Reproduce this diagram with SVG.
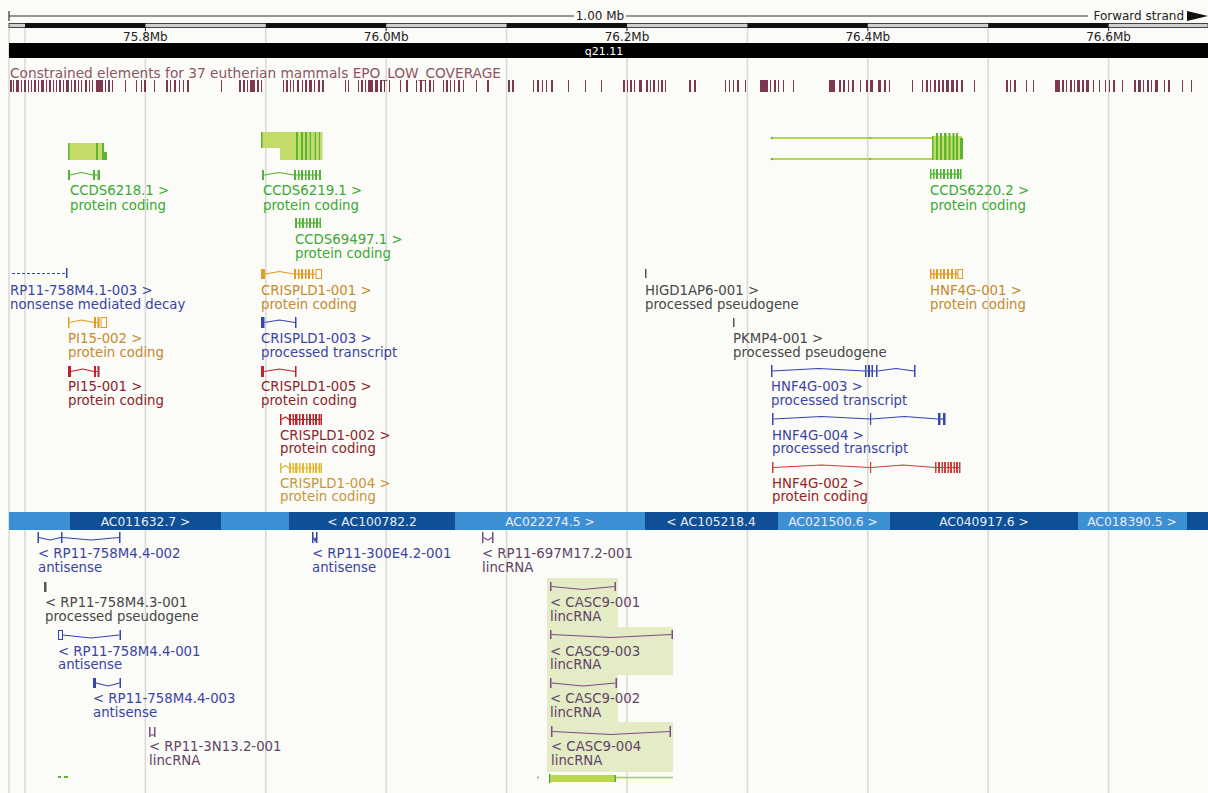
<svg xmlns="http://www.w3.org/2000/svg" width="1208" height="793" viewBox="0 0 1208 793">
<style>
text{font-family:"DejaVu Sans",Verdana,sans-serif;font-size:13.3px}
.grid{stroke:#d9d9d6;stroke-width:1.5}
.sc{font-size:12px;fill:#222}
.band{font-size:12.3px;fill:#e8eef8;text-anchor:middle}
.x{stroke:none}
.i{fill:none;stroke-width:1.2}
.u{fill:none;stroke-width:1}
.green text{fill:#3aa935}.green .x{fill:#4fb433}.green .i,.green .u{stroke:#4fb433}
.orange text{fill:#c68a2e}.orange .x{fill:#e19c22}.orange .i,.orange .u{stroke:#e19c22}
.gold text{fill:#c9953a}.gold .x{fill:#e2b835}.gold .i,.gold .u{stroke:#e2b835}
.blue text{fill:#3a44a4}.blue .x{fill:#3445b2}.blue .i,.blue .u{stroke:#3445b2}
.red text{fill:#8c1f2e}.red .x{fill:#c2202e}.red .i,.red .u{stroke:#c2202e}
.red2 text{fill:#9a2222}.red2 .x{fill:#d33a3a}.red2 .i{stroke:#d33a3a}
.gray text{fill:#474747}.gray .x{fill:#555}
.purple text{fill:#5f4466}.purple .x{fill:#7b4b86}.purple .i{stroke:#7b4b86}
.lime{fill:#c3dc68}
.dg{fill:#5cb531}
</style>
<rect width="1208" height="793" fill="#fbfbf7"/>

<g id="gridlines">
<line class="grid" x1="9" y1="28" x2="9" y2="793"/>
<line class="grid" x1="25" y1="28" x2="25" y2="793"/>
<line class="grid" x1="145.4" y1="28" x2="145.4" y2="793"/>
<line class="grid" x1="265.8" y1="28" x2="265.8" y2="793"/>
<line class="grid" x1="386.2" y1="28" x2="386.2" y2="793"/>
<line class="grid" x1="506.6" y1="28" x2="506.6" y2="793"/>
<line class="grid" x1="627" y1="28" x2="627" y2="793"/>
<line class="grid" x1="747.4" y1="28" x2="747.4" y2="793"/>
<line class="grid" x1="867.8" y1="28" x2="867.8" y2="793"/>
<line class="grid" x1="988.2" y1="28" x2="988.2" y2="793"/>
<line class="grid" x1="1108.6" y1="28" x2="1108.6" y2="793"/>
</g>

<g id="scale">
<line x1="9" y1="16" x2="574" y2="16" stroke="#333" stroke-width="1"/>
<line x1="9" y1="11" x2="9" y2="21" stroke="#333" stroke-width="1.2"/>
<text class="sc" x="600" y="20" text-anchor="middle">1.00 Mb</text>
<line x1="626" y1="16" x2="1088" y2="16" stroke="#333" stroke-width="1"/>
<text class="sc" x="1184" y="20" text-anchor="end">Forward strand</text>
<polygon points="1187,11 1208,16 1187,21" fill="#111"/>
<rect x="9" y="23.5" width="1199" height="4" fill="#cfcfcf" stroke="#444" stroke-width="1"/>
<g fill="#111">
<rect x="25" y="23" width="120.4" height="5"/>
<rect x="265.8" y="23" width="120.4" height="5"/>
<rect x="506.6" y="23" width="120.4" height="5"/>
<rect x="747.4" y="23" width="120.4" height="5"/>
<rect x="988.2" y="23" width="120.4" height="5"/>
</g>
<g stroke="#333" stroke-width="1">
<line x1="145.4" y1="28" x2="145.4" y2="31"/>
<line x1="386.2" y1="28" x2="386.2" y2="31"/>
<line x1="627" y1="28" x2="627" y2="31"/>
<line x1="867.8" y1="28" x2="867.8" y2="31"/>
<line x1="1108.6" y1="28" x2="1108.6" y2="31"/>
</g>
<g class="sc" text-anchor="middle">
<text class="sc" x="145.4" y="41">75.8Mb</text>
<text class="sc" x="386.2" y="41">76.0Mb</text>
<text class="sc" x="627" y="41">76.2Mb</text>
<text class="sc" x="867.8" y="41">76.4Mb</text>
<text class="sc" x="1108.6" y="41">76.6Mb</text>
</g>
</g>

<g id="chromosome-band">
<rect x="9" y="43" width="1199" height="15" fill="#000"/>
<text x="604" y="54.5" text-anchor="middle" fill="#fff" style="font-size:11px">q21.11</text>
</g>

<g id="constrained-elements">
<text x="10" y="78" fill="#8c5565" textLength="491" lengthAdjust="spacingAndGlyphs">Constrained elements for 37 eutherian mammals EPO_LOW_COVERAGE</text>
<path fill="#7d3750" d="M10 80h2v12h-2zM13 80h1v12h-1zM16 80h3v12h-3zM21 80h1v12h-1zM24 80h2v12h-2zM28 80h1v12h-1zM31 80h1v12h-1zM34 80h2v12h-2zM38 80h1v12h-1zM41 80h3v12h-3zM46 80h1v12h-1zM49 80h2v12h-2zM53 80h1v12h-1zM56 80h1v12h-1zM59 80h2v12h-2zM63 80h1v12h-1zM66 80h3v12h-3zM71 80h1v12h-1zM74 80h2v12h-2zM78 80h1v12h-1zM81 80h1v12h-1zM85 80h2v12h-2zM89 80h1v12h-1zM92 80h1v12h-1zM96 80h7v12h-7zM105 80h1v12h-1zM108 80h2v12h-2zM112 80h1v12h-1z
M125 80h1v12h-1zM136 80h1v12h-1zM141 80h1v12h-1zM144 80h2v12h-2zM154 80h1v12h-1zM166 80h2v12h-2zM170 80h1v12h-1zM174 80h2v12h-2zM179 80h1v12h-1zM183 80h1v12h-1zM187 80h2v12h-2z
M221 80h1v12h-1zM239 80h2v12h-2zM243 80h2v12h-2zM247 80h1v12h-1zM250 80h5v12h-5zM257 80h2v12h-2zM261 80h1v12h-1z
M283 80h1v12h-1zM286 80h2v12h-2zM290 80h1v12h-1zM293 80h1v12h-1zM297 80h2v12h-2zM302 80h1v12h-1zM305 80h2v12h-2zM309 80h3v12h-3zM314 80h1v12h-1zM318 80h2v12h-2zM322 80h2v12h-2z
M345 80h1v12h-1zM348 80h1v12h-1zM358 80h1v12h-1zM361 80h2v12h-2zM365 80h1v12h-1zM368 80h5v12h-5zM375 80h3v12h-3zM380 80h2v12h-2zM384 80h1v12h-1zM389 80h1v12h-1z
M400 80h1v12h-1zM406 80h2v12h-2zM416 80h1v12h-1zM420 80h2v12h-2zM425 80h1v12h-1zM429 80h2v12h-2zM433 80h1v12h-1zM443 80h1v12h-1zM446 80h2v12h-2zM450 80h1v12h-1zM454 80h1v12h-1zM458 80h2v12h-2zM463 80h1v12h-1zM476 80h1v12h-1zM487 80h2v12h-2z
M508 80h2v12h-2zM512 80h2v12h-2zM533 80h1v12h-1zM537 80h2v12h-2zM542 80h1v12h-1zM546 80h1v12h-1zM551 80h2v12h-2zM568 80h1v12h-1zM585 80h1v12h-1zM601 80h1v12h-1z
M623 80h2v12h-2zM627 80h1v12h-1zM630 80h2v12h-2zM634 80h1v12h-1zM639 80h3v12h-3zM646 80h2v12h-2zM650 80h1v12h-1zM653 80h2v12h-2zM658 80h1v12h-1zM661 80h2v12h-2zM665 80h1v12h-1z
M689 80h2v12h-2zM694 80h2v12h-2zM725 80h1v12h-1zM729 80h1v12h-1zM733 80h1v12h-1zM737 80h2v12h-2zM745 80h1v12h-1z
M760 80h8v12h-8zM770 80h1v12h-1zM774 80h2v12h-2zM778 80h1v12h-1zM783 80h1v12h-1zM793 80h1v12h-1z
M829 80h6v12h-6zM839 80h2v12h-2zM843 80h2v12h-2zM848 80h1v12h-1zM852 80h2v12h-2zM860 80h1v12h-1zM866 80h2v12h-2zM870 80h3v12h-3zM878 80h3v12h-3zM884 80h2v12h-2zM889 80h1v12h-1z
M912 80h1v12h-1zM922 80h1v12h-1zM926 80h2v12h-2zM930 80h1v12h-1zM934 80h2v12h-2zM938 80h2v12h-2zM942 80h2v12h-2zM946 80h3v12h-3zM951 80h3v12h-3zM956 80h2v12h-2zM961 80h2v12h-2zM974 80h1v12h-1z
M1006 80h2v12h-2zM1010 80h1v12h-1zM1014 80h2v12h-2zM1026 80h1v12h-1zM1033 80h1v12h-1z
M1055 80h5v12h-5zM1062 80h2v12h-2zM1066 80h1v12h-1zM1070 80h2v12h-2zM1074 80h1v12h-1zM1077 80h3v12h-3zM1082 80h2v12h-2zM1086 80h3v12h-3zM1093 80h1v12h-1zM1099 80h1v12h-1z
M1105 80h1v12h-1zM1109 80h1v12h-1zM1113 80h2v12h-2zM1122 80h1v12h-1zM1134 80h2v12h-2zM1138 80h3v12h-3zM1143 80h1v12h-1zM1147 80h2v12h-2zM1151 80h1v12h-1zM1155 80h3v12h-3zM1164 80h1v12h-1zM1168 80h2v12h-2zM1182 80h1v12h-1zM1191 80h1v12h-1z"/>
</g>

<!-- collapsed CCDS gene glyphs -->
<g id="gene-ccds6218">
<rect class="lime" x="68" y="143" width="28" height="17"/>
<rect class="dg" x="68" y="143" width="1.5" height="17"/>
<rect class="dg" x="96" y="143" width="2" height="17"/>
<rect class="lime" x="98" y="143" width="4" height="17"/>
<rect class="dg" x="102" y="143" width="2" height="17"/>
<rect class="dg" x="104" y="152" width="3" height="8"/>
</g>
<g id="gene-ccds6219">
<rect class="lime" x="261" y="132" width="35" height="16"/>
<rect class="lime" x="280" y="148" width="16" height="12"/>
<rect class="dg" x="261" y="132" width="1.5" height="16"/>
<rect class="dg" x="296" y="132" width="2" height="28"/>
<rect class="lime" x="298" y="132" width="3" height="28"/>
<rect class="dg" x="301" y="132" width="2" height="28"/>
<rect class="lime" x="303" y="132" width="2" height="28"/>
<rect class="dg" x="305" y="132" width="2.5" height="28"/>
<rect class="lime" x="307.5" y="132" width="2" height="28"/>
<rect class="dg" x="309.5" y="132" width="2" height="28"/>
<rect class="lime" x="311.5" y="132" width="3" height="28"/>
<rect class="dg" x="314.5" y="132" width="1.5" height="28"/>
<rect class="lime" x="316" y="132" width="3" height="28"/>
<rect class="dg" x="319" y="132" width="1.5" height="28"/>
<rect class="lime" x="320.5" y="132" width="2" height="28"/>
</g>
<g id="gene-ccds6220">
<line x1="772" y1="138" x2="932" y2="138" stroke="#b5d64c" stroke-width="2"/>
<line x1="772" y1="159" x2="932" y2="159" stroke="#b5d64c" stroke-width="2"/>
<circle cx="772" cy="138" r="1.3" fill="#6dbb35"/>
<circle cx="772" cy="159" r="1.3" fill="#6dbb35"/>
<circle cx="870" cy="138" r="1" fill="#6dbb35"/>
<circle cx="870" cy="159" r="1" fill="#6dbb35"/>
<rect class="lime" x="932" y="136" width="30" height="24"/>
<rect class="dg" x="932" y="136" width="1.5" height="24"/>
<rect class="dg" x="936" y="133" width="2" height="27"/>
<rect class="dg" x="940" y="133" width="2" height="27"/>
<rect class="dg" x="944" y="133" width="2.5" height="27"/>
<rect class="dg" x="948.5" y="133" width="2" height="27"/>
<rect class="dg" x="952.5" y="133" width="2" height="27"/>
<rect class="dg" x="956" y="133" width="2" height="27"/>
<rect class="dg" x="960" y="138" width="3" height="21"/>
</g>

<!-- forward strand transcripts -->
<g id="ccds6218-1" class="green">
<rect class="x" x="68" y="170" width="2" height="10"/>
<path class="i" d="M70 175L81.5 172.5L93 175"/>
<rect class="x" x="93" y="170" width="2" height="10"/>
<rect class="x" x="97.5" y="170" width="2.5" height="10"/>
<path class="i" d="M95 175H97.5"/>
<text x="70" y="195">CCDS6218.1 &gt;</text>
<text x="70" y="210">protein coding</text>
</g>
<g id="ccds6219-1" class="green">
<rect class="x" x="262" y="170" width="2" height="10"/>
<path class="i" d="M264 175L279 172.5L294 175M294 175H321"/>
<rect class="x" x="294" y="170" width="2" height="10"/>
<rect class="x" x="298" y="170" width="1.5" height="10"/>
<rect class="x" x="301" y="170" width="2" height="10"/>
<rect class="x" x="305" y="170" width="1.5" height="10"/>
<rect class="x" x="308" y="170" width="2" height="10"/>
<rect class="x" x="312" y="170" width="1.5" height="10"/>
<rect class="x" x="315" y="170" width="2" height="10"/>
<rect class="x" x="319" y="170" width="2" height="10"/>
<text x="263" y="195">CCDS6219.1 &gt;</text>
<text x="263" y="210">protein coding</text>
</g>
<g id="ccds69497-1" class="green">
<path class="i" d="M296 223H321"/>
<rect class="x" x="295" y="218" width="2" height="10"/>
<rect class="x" x="299" y="218" width="1.5" height="10"/>
<rect class="x" x="302" y="218" width="2" height="10"/>
<rect class="x" x="306" y="218" width="1.5" height="10"/>
<rect class="x" x="309" y="218" width="2" height="10"/>
<rect class="x" x="313" y="218" width="1.5" height="10"/>
<rect class="x" x="316" y="218" width="2" height="10"/>
<rect class="x" x="319.5" y="218" width="1.5" height="10"/>
<text x="295" y="244">CCDS69497.1 &gt;</text>
<text x="295" y="258">protein coding</text>
</g>
<g id="ccds6220-2" class="green">
<path class="i" d="M930 174H961"/>
<rect class="x" x="930" y="169" width="1.5" height="10"/>
<rect class="x" x="933" y="169" width="1.5" height="10"/>
<rect class="x" x="936" y="169" width="2" height="10"/>
<rect class="x" x="940" y="169" width="1.5" height="10"/>
<rect class="x" x="943" y="169" width="2" height="10"/>
<rect class="x" x="947" y="169" width="1.5" height="10"/>
<rect class="x" x="950" y="169" width="2" height="10"/>
<rect class="x" x="954" y="169" width="1.5" height="10"/>
<rect class="x" x="957" y="169" width="2" height="10"/>
<rect class="x" x="960" y="169" width="1.5" height="10"/>
<text x="930" y="195">CCDS6220.2 &gt;</text>
<text x="930" y="210">protein coding</text>
</g>

<g id="rp11-758m4-1-003" class="blue">
<path class="i" d="M12 273.5H66" stroke-dasharray="3 2"/>
<rect class="x" x="66" y="268" width="1.5" height="10"/>
<text x="10" y="295">RP11-758M4.1-003 &gt;</text>
<text x="10" y="309">nonsense mediated decay</text>
</g>
<g id="crispld1-001" class="orange">
<rect class="x" x="261" y="269" width="4" height="10"/>
<path class="i" d="M265 274L279.5 271.5L294 274M294 274H316"/>
<rect class="x" x="294" y="269" width="2" height="10"/>
<rect class="x" x="298" y="269" width="1.5" height="10"/>
<rect class="x" x="301" y="269" width="2" height="10"/>
<rect class="x" x="305" y="269" width="1.5" height="10"/>
<rect class="x" x="308" y="269" width="2" height="10"/>
<rect class="x" x="312" y="269" width="1.5" height="10"/>
<rect class="u" x="316" y="269.5" width="5.5" height="9"/>
<text x="261" y="295">CRISPLD1-001 &gt;</text>
<text x="261" y="309">protein coding</text>
</g>
<g id="higd1ap6-001" class="gray">
<rect class="x" x="645" y="269" width="1.5" height="9"/>
<text x="645" y="295">HIGD1AP6-001 &gt;</text>
<text x="645" y="309">processed pseudogene</text>
</g>
<g id="hnf4g-001" class="orange">
<path class="i" d="M930 274H958"/>
<rect class="x" x="930" y="269" width="1.5" height="10"/>
<rect class="x" x="933" y="269" width="1.5" height="10"/>
<rect class="x" x="936" y="269" width="2" height="10"/>
<rect class="x" x="940" y="269" width="1.5" height="10"/>
<rect class="x" x="943" y="269" width="2" height="10"/>
<rect class="x" x="947" y="269" width="2" height="10"/>
<rect class="x" x="951" y="269" width="2" height="10"/>
<rect class="x" x="955" y="269" width="1.5" height="10"/>
<rect class="u" x="958" y="269.5" width="4.5" height="9"/>
<text x="930" y="295">HNF4G-001 &gt;</text>
<text x="930" y="309">protein coding</text>
</g>

<g id="pi15-002" class="orange">
<rect class="x" x="68" y="317" width="1.5" height="11"/>
<path class="i" d="M69.5 322.5L81.5 320L94 322.5M96 322.5H97.5"/>
<rect class="x" x="94" y="317" width="2" height="11"/>
<rect class="x" x="97.5" y="317" width="2" height="11"/>
<rect class="u" x="101" y="317.5" width="5.5" height="10"/>
<text x="68" y="343">PI15-002 &gt;</text>
<text x="68" y="357">protein coding</text>
</g>
<g id="crispld1-003" class="blue">
<rect class="x" x="261" y="317" width="3.5" height="11"/>
<path class="i" d="M264.5 322.5L279.5 320L295 322.5"/>
<rect class="x" x="295" y="317" width="1.5" height="11"/>
<text x="261" y="343">CRISPLD1-003 &gt;</text>
<text x="261" y="357">processed transcript</text>
</g>
<g id="pkmp4-001" class="gray">
<rect class="x" x="733" y="318" width="1.5" height="9"/>
<text x="733" y="343">PKMP4-001 &gt;</text>
<text x="733" y="357">processed pseudogene</text>
</g>

<g id="pi15-001" class="red">
<rect class="x" x="68" y="366" width="3" height="11"/>
<path class="i" d="M71 371.5L82.5 369L94 371.5M96 371.5H97.5"/>
<rect class="x" x="94" y="366" width="2" height="11"/>
<rect class="x" x="97.5" y="366" width="2" height="11"/>
<text x="68" y="391">PI15-001 &gt;</text>
<text x="68" y="405">protein coding</text>
</g>
<g id="crispld1-005" class="red">
<rect class="x" x="261" y="366" width="3" height="11"/>
<path class="i" d="M264 371.5L279.5 369L295 371.5"/>
<rect class="x" x="295" y="366" width="1.5" height="11"/>
<text x="261" y="391">CRISPLD1-005 &gt;</text>
<text x="261" y="405">protein coding</text>
</g>
<g id="hnf4g-003" class="blue">
<rect class="x" x="771" y="365" width="1.5" height="12"/>
<path class="i" d="M772.5 371L818.5 368.5L865 371M867 371H876M877.5 371L896 368.5L914 371"/>
<rect class="x" x="865" y="365" width="1.5" height="12"/>
<rect class="x" x="868" y="365" width="2" height="12"/>
<rect class="x" x="871.5" y="365" width="1.5" height="12"/>
<rect class="x" x="876" y="365" width="1.5" height="12"/>
<rect class="x" x="914" y="365" width="1.5" height="12"/>
<text x="771" y="391">HNF4G-003 &gt;</text>
<text x="771" y="405">processed transcript</text>
</g>

<g id="crispld1-002" class="red">
<rect class="x" x="280" y="414" width="1.5" height="11"/>
<path class="i" d="M281.5 419.5L285.5 417L289 419.5M289 419.5H322"/>
<rect class="x" x="289" y="414" width="2" height="11"/>
<rect class="x" x="292.5" y="414" width="1.5" height="11"/>
<rect class="x" x="295" y="414" width="2.5" height="11"/>
<rect class="x" x="299" y="414" width="1.5" height="11"/>
<rect class="x" x="302" y="414" width="2" height="11"/>
<rect class="x" x="306" y="414" width="1.5" height="11"/>
<rect class="x" x="309" y="414" width="2" height="11"/>
<rect class="x" x="312.5" y="414" width="1.5" height="11"/>
<rect class="x" x="315" y="414" width="2" height="11"/>
<rect class="x" x="318.5" y="414" width="1.5" height="11"/>
<rect class="x" x="320.5" y="414" width="1.5" height="11"/>
<text x="280" y="440">CRISPLD1-002 &gt;</text>
<text x="280" y="453">protein coding</text>
</g>
<g id="hnf4g-004" class="blue">
<rect class="x" x="772" y="413" width="1.5" height="12"/>
<path class="i" d="M773.5 419L821.5 416.5L870 419M871.2 419L904.5 416.5L938 419"/>
<rect class="x" x="870" y="413" width="1.2" height="12"/>
<rect class="x" x="938" y="413" width="2.5" height="12"/>
<rect class="x" x="943" y="413" width="2.5" height="12"/>
<path class="i" d="M940.5 419H943"/>
<text x="772" y="440">HNF4G-004 &gt;</text>
<text x="772" y="453">processed transcript</text>
</g>

<g id="crispld1-004" class="gold">
<rect class="x" x="280" y="463" width="1.5" height="10"/>
<path class="i" d="M281.5 468L285.5 465.5L289 468M289 468H322"/>
<rect class="x" x="289" y="463" width="2" height="10"/>
<rect class="x" x="292.5" y="463" width="1.5" height="10"/>
<rect class="x" x="295" y="463" width="2.5" height="10"/>
<rect class="x" x="299" y="463" width="1.5" height="10"/>
<rect class="x" x="302" y="463" width="2" height="10"/>
<rect class="x" x="306" y="463" width="1.5" height="10"/>
<rect class="x" x="309" y="463" width="2" height="10"/>
<rect class="x" x="312.5" y="463" width="1.5" height="10"/>
<rect class="x" x="315" y="463" width="2" height="10"/>
<rect class="x" x="318.5" y="463" width="1.5" height="10"/>
<rect class="x" x="320.5" y="463" width="1.5" height="10"/>
<text x="280" y="488">CRISPLD1-004 &gt;</text>
<text x="280" y="501">protein coding</text>
</g>
<g id="hnf4g-002" class="red2">
<rect class="x" x="772" y="462" width="1.5" height="11"/>
<path class="i" d="M773.5 467.5L821.5 465L870 467.5M871.2 467.5L903 465L935 467.5M935 467.5H960"/>
<rect class="x" x="870" y="462" width="1.2" height="11"/>
<rect class="x" x="935" y="462" width="1.5" height="11"/>
<rect class="x" x="938" y="462" width="2" height="11"/>
<rect class="x" x="941.5" y="462" width="1.5" height="11"/>
<rect class="x" x="944" y="462" width="2" height="11"/>
<rect class="x" x="947.5" y="462" width="1.5" height="11"/>
<rect class="x" x="950" y="462" width="2" height="11"/>
<rect class="x" x="953.5" y="462" width="1.5" height="11"/>
<rect class="x" x="956" y="462" width="2" height="11"/>
<rect class="x" x="959" y="462" width="1.5" height="11"/>
<text x="772" y="488">HNF4G-002 &gt;</text>
<text x="772" y="501">protein coding</text>
</g>

<g id="contig-band">
<rect x="9" y="512" width="1199" height="18" fill="#3d8fd3"/>
<rect x="70" y="512" width="151" height="18" fill="#0f4f96"/>
<rect x="289" y="512" width="166" height="18" fill="#0f4f96"/>
<rect x="645" y="512" width="133" height="18" fill="#0f4f96"/>
<rect x="890" y="512" width="188" height="18" fill="#0f4f96"/>
<rect x="1187" y="512" width="21" height="18" fill="#0f4f96"/>
<text class="band" x="145.5" y="525.5">AC011632.7 &gt;</text>
<text class="band" x="372" y="525.5">&lt; AC100782.2</text>
<text class="band" x="550" y="525.5">AC022274.5 &gt;</text>
<text class="band" x="711" y="525.5">&lt; AC105218.4</text>
<text class="band" x="833" y="525.5">AC021500.6 &gt;</text>
<text class="band" x="984" y="525.5">AC040917.6 &gt;</text>
<text class="band" x="1132" y="525.5">AC018390.5 &gt;</text>
</g>

<g id="casc9-highlight">
<polygon points="547,578 618,578 618,627 673,627 673,675 618,675 618,722 673,722 673,772 547,772" fill="#e4ecc6"/>
</g>

<!-- reverse strand transcripts -->
<g id="rp11-758m4-4-002" class="blue">
<rect class="x" x="37.5" y="532" width="1.5" height="11"/>
<path class="i" d="M39 537.5L50 540L61 537.5M62.5 537.5L91 540L119 537.5"/>
<rect class="x" x="61" y="532" width="1.5" height="11"/>
<rect class="x" x="119" y="532" width="1.5" height="11"/>
<text x="38" y="558">&lt; RP11-758M4.4-002</text>
<text x="38" y="572">antisense</text>
</g>
<g id="rp11-300e4-2-001" class="blue">
<rect class="x" x="312" y="532" width="1.5" height="11"/>
<path class="i" d="M313.5 537.5L315 541L316 537.5"/>
<rect class="x" x="316" y="532" width="1.5" height="11"/>
<text x="312" y="558">&lt; RP11-300E4.2-001</text>
<text x="312" y="572">antisense</text>
</g>
<g id="rp11-697m17-2-001" class="purple">
<rect class="x" x="482" y="532" width="1.5" height="11"/>
<path class="i" d="M483.5 537.5L488 540L492 537.5"/>
<rect class="x" x="492" y="532" width="1.5" height="11"/>
<text x="482" y="558">&lt; RP11-697M17.2-001</text>
<text x="482" y="572">lincRNA</text>
</g>
<g id="rp11-758m4-3-001" class="gray">
<rect class="x" x="44" y="582" width="2.5" height="10"/>
<text x="45" y="607">&lt; RP11-758M4.3-001</text>
<text x="45" y="621">processed pseudogene</text>
</g>
<g id="casc9-001" class="purple">
<rect class="x" x="550" y="582" width="1.5" height="9"/>
<path class="i" d="M551.5 586.5L583 589.5L614.5 586.5"/>
<rect class="x" x="614.5" y="582" width="1.5" height="9"/>
<text x="550" y="607">&lt; CASC9-001</text>
<text x="550" y="621">lincRNA</text>
</g>
<g id="rp11-758m4-4-001" class="blue">
<rect class="u" x="58.5" y="630.5" width="4" height="9"/>
<path class="i" d="M62.5 635L91 638L119.5 635"/>
<rect class="x" x="119.5" y="630" width="1.5" height="10"/>
<text x="58" y="656">&lt; RP11-758M4.4-001</text>
<text x="58" y="669">antisense</text>
</g>
<g id="casc9-003" class="purple">
<rect class="x" x="550" y="630" width="1.5" height="9"/>
<path class="i" d="M551.5 634.5L611 637.5L671.5 634.5"/>
<rect class="x" x="671.5" y="630" width="1.5" height="9"/>
<text x="550" y="656">&lt; CASC9-003</text>
<text x="550" y="669">lincRNA</text>
</g>
<g id="rp11-758m4-4-003" class="blue">
<rect class="x" x="93" y="678" width="3" height="10"/>
<path class="i" d="M96 683L108 686L119.5 683"/>
<rect class="x" x="119.5" y="678" width="1.5" height="10"/>
<text x="93" y="703">&lt; RP11-758M4.4-003</text>
<text x="93" y="717">antisense</text>
</g>
<g id="casc9-002" class="purple">
<rect class="x" x="550" y="678" width="1.5" height="10"/>
<path class="i" d="M551.5 683L583.5 686L615.5 683"/>
<rect class="x" x="615.5" y="678" width="1.5" height="10"/>
<text x="550" y="703">&lt; CASC9-002</text>
<text x="550" y="717">lincRNA</text>
</g>
<g id="rp11-3n13-2-001" class="purple">
<rect class="x" x="149" y="727" width="1.5" height="10"/>
<path class="i" d="M150.5 735H154"/>
<rect class="x" x="154" y="727" width="1.5" height="10"/>
<text x="149" y="751">&lt; RP11-3N13.2-001</text>
<text x="149" y="765">lincRNA</text>
</g>
<g id="casc9-004" class="purple">
<rect class="x" x="551" y="726" width="1.5" height="11"/>
<path class="i" d="M552.5 731.5L611 734.5L669.5 731.5"/>
<rect class="x" x="669.5" y="726" width="1.5" height="11"/>
<text x="551" y="751">&lt; CASC9-004</text>
<text x="551" y="765">lincRNA</text>
</g>

<g id="bottom-green-left">
<rect x="58" y="776" width="3" height="2" fill="#5cb83c"/>
<rect x="64" y="776" width="4" height="2" fill="#5cb83c"/>
</g>
<g id="bottom-green-casc9">
<circle cx="538" cy="777.5" r="0.9" fill="#5cb83c"/>
<rect x="549" y="774" width="1.5" height="9" fill="#3e9e2c"/>
<rect x="550.5" y="775" width="64.5" height="7" fill="#b9d84e"/>
<rect x="614.5" y="775" width="1.5" height="7" fill="#4fae2f"/>
<line x1="616" y1="777.5" x2="673" y2="777.5" stroke="#a9d040" stroke-width="1.6"/>
</g>
</svg>
